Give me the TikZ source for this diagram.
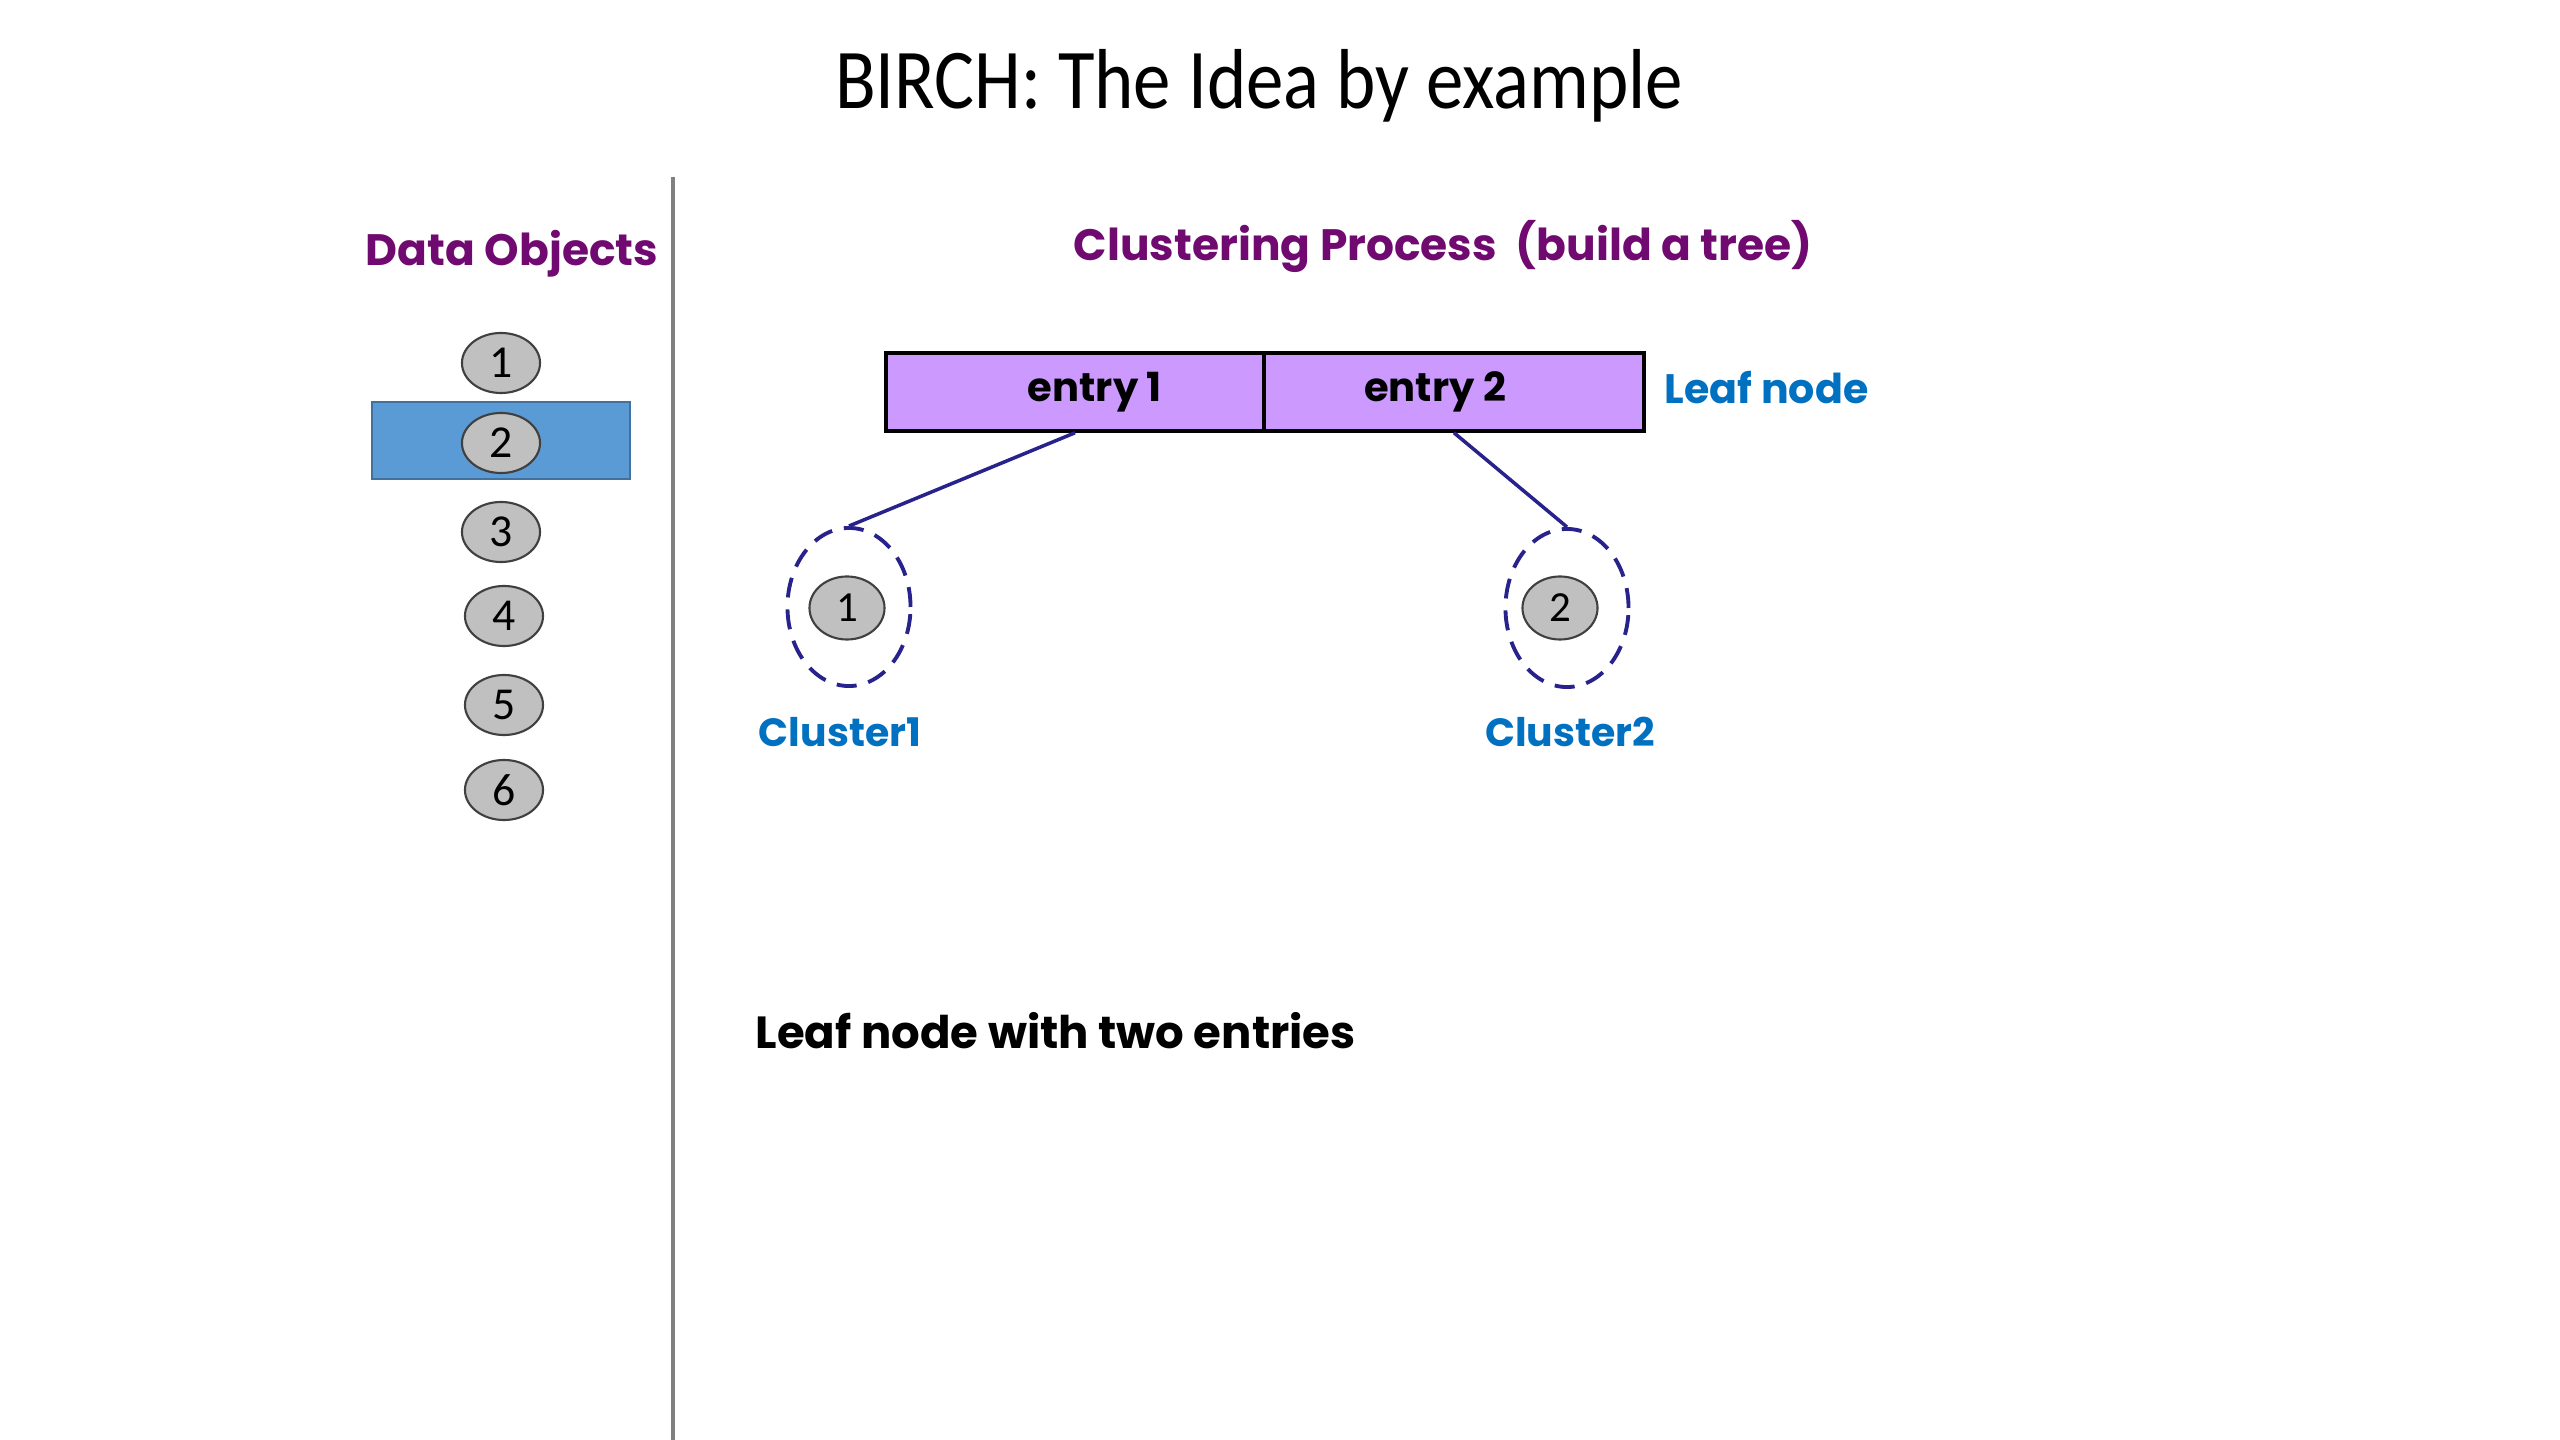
\documentclass[tikz,border=0pt]{standalone}
\usepackage{fontspec}
\setmainfont{Carlito}
\newfontfamily\gothic{Poppins}
\usetikzlibrary{shapes.geometric}
\definecolor{ttlpurple}{RGB}{112,10,112}
\definecolor{lblblue}{RGB}{0,112,192}
\definecolor{selblue}{RGB}{91,155,213}
\definecolor{selborder}{RGB}{65,113,156}
\definecolor{objgray}{RGB}{192,192,192}
\definecolor{entryfill}{RGB}{204,153,255}
\definecolor{linkblue}{RGB}{40,35,140}
\definecolor{sepgray}{RGB}{128,128,128}
\tikzset{
  obj/.style={ellipse, draw=black!75, fill=objgray, line width=0.6pt, minimum width=0.78cm, minimum height=0.60cm, inner sep=0pt, font=\fontsize{13}{13}\selectfont},
  cobj/.style={obj, minimum width=0.75cm, minimum height=0.63cm, font=\fontsize{12.2}{12.2}\selectfont},
  entrybox/.style={rectangle, draw=black, fill=entryfill, line width=1pt, minimum height=0.78cm, inner sep=0pt},
  entrytxt/.style={font=\gothic\bfseries\fontsize{11.4}{11.4}\selectfont, anchor=base},
  clust/.style={ellipse, draw=linkblue, dash pattern=on 0.2cm off 0.12cm, line width=1.1pt, minimum width=1.23cm, minimum height=1.58cm, inner sep=0pt},
  link/.style={draw=linkblue, line width=1pt},
  heading/.style={font=\gothic\bfseries\fontsize{12.5}{12.5}\selectfont, text=ttlpurple, anchor=base, inner sep=0pt},
  bluelbl/.style={font=\gothic\bfseries\fontsize{11.2}{11.2}\selectfont, text=lblblue, anchor=base, inner sep=0pt}
}
\begin{document}
\begin{tikzpicture}[x=0.01cm, y=-0.01cm]
\useasboundingbox[fill=white] (0,0) rectangle (2560,1440);
% title
\node[font=\fontsize{24.2}{24.2}\selectfont, anchor=base, inner sep=0pt] (title) at (1259,109) {\scalebox{0.88}[1]{BIRCH: The Idea by example}};
% separator
\coordinate (septop) at (673,177);
\coordinate (sepbot) at (673,1440);
\draw[sepgray, line width=1pt] (septop) -- (sepbot);
% headings
\node[heading] (dobj) at (512,266) {Data Objects};
\node[heading] (cproc) at (1443,261) {Clustering Process\ \ (build a tree)};
% data objects
\node[rectangle, draw=selborder, fill=selblue, line width=0.7pt, minimum width=2.58cm, minimum height=0.77cm, inner sep=0pt] (sel) at (501,440.5) {};
\node[obj] (o1) at (501,363) {1};
\node[obj] (o2) at (501,443) {2};
\node[obj] (o3) at (501,532) {3};
\node[obj] (o4) at (504,616) {4};
\node[obj] (o5) at (504,705) {5};
\node[obj] (o6) at (504,790) {6};
% leaf node
\node[entrybox, minimum width=3.78cm] (e1) at (1075,392) {};
\node[entrybox, minimum width=3.80cm] (e2) at (1454,392) {};
\node[entrytxt] (t1) at (1095,402) {entry 1};
\node[entrytxt] (t2) at (1435,402) {entry 2};
\node[bluelbl, anchor=base west, font=\gothic\bfseries\fontsize{11.7}{11.7}\selectfont] (leaflbl) at (1664,404) {Leaf node};
% clusters
\node[clust] (c1) at (849,607) {};
\node[clust] (c2) at (1567,608) {};
\node[cobj] (p1) at (847,608) {1};
\node[cobj] (p2) at (1560,608) {2};
\draw[link] (e1.south) -- (c1.north);
\draw[link] (e2.south) -- (c2.north);
\node[bluelbl] (cl1) at (840,747) {Cluster1};
\node[bluelbl] (cl2) at (1570,747) {Cluster2};
% caption
\node[font=\gothic\bfseries\fontsize{12.8}{12.8}\selectfont, anchor=base west, inner sep=0pt] (cap) at (755,1048) {Leaf node with two entries};
\end{tikzpicture}
\end{document}
